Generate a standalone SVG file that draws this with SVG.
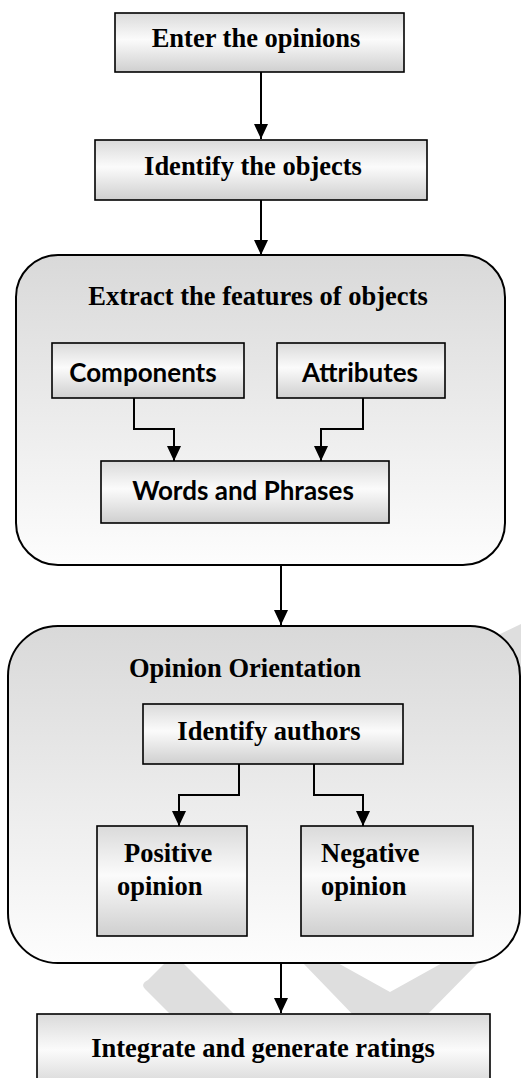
<svg xmlns="http://www.w3.org/2000/svg" width="521" height="1078" viewBox="0 0 521 1078">
<defs>
<linearGradient id="gBox" x1="0" y1="0" x2="0" y2="1">
<stop offset="0" stop-color="#dadada"/>
<stop offset="0.45" stop-color="#fbfbfb"/>
<stop offset="1" stop-color="#cfcfcf"/>
</linearGradient>
<linearGradient id="gBig" x1="0" y1="0" x2="0" y2="1">
<stop offset="0" stop-color="#d9d9d9"/>
<stop offset="1" stop-color="#fdfdfd"/>
</linearGradient>
<marker id="ah" markerUnits="userSpaceOnUse" markerWidth="16" markerHeight="14" refX="15" refY="7" orient="auto">
<path d="M0,0 L15,7 L0,14 Z" fill="#000"/>
</marker>
</defs>
<style>
.box{fill:url(#gBox);stroke:#000;stroke-width:1.6}
.big{fill:url(#gBig);stroke:#000;stroke-width:2}
.serif{font-family:"Liberation Serif","Times New Roman",serif;font-weight:bold;font-size:26.5px;fill:#000}
.sans{font-family:Lato,"Liberation Sans",sans-serif;font-weight:bold;font-size:26px;fill:#000}
.mid{text-anchor:middle}
.conn{fill:none;stroke:#000;stroke-width:2;marker-end:url(#ah)}
.wm{fill:#dedede}
</style>
<rect width="521" height="1078" fill="#fff"/>
<g id="watermark">
<path class="wm" d="M148,980 L169,959 Q174,954 179,959 L242,1022 L178,1022 L145,989 Q140,984 148,980 Z"/>
<polygon class="wm" points="302,962 336,962 390,992 444,962 479,962 422,1020 358,1020"/>
<polygon class="wm" points="496,636 521,624 521,720 496,720"/>
</g>
<g id="n-enter">
<rect class="box" x="115" y="13" width="289" height="59"/>
<text class="serif mid" x="256" y="47">Enter the opinions</text>
</g>
<g id="n-identify-objects">
<rect class="box" x="95" y="140" width="332" height="60"/>
<text class="serif mid" x="253" y="175">Identify the objects</text>
</g>
<g id="n-extract">
<rect class="big" x="16" y="255" width="489" height="310" rx="42" ry="42"/>
<text class="serif mid" x="258" y="305">Extract the features of objects</text>
</g>
<g id="n-components">
<rect class="box" x="52" y="343" width="192" height="55"/>
<text class="sans mid" x="143" y="382">Components</text>
</g>
<g id="n-attributes">
<rect class="box" x="277" y="343" width="168" height="55"/>
<text class="sans mid" x="360" y="382">Attributes</text>
</g>
<g id="n-words">
<rect class="box" x="101" y="461" width="288" height="62"/>
<text class="sans mid" x="243" y="500">Words and Phrases</text>
</g>
<g id="n-orientation">
<rect class="big" x="8" y="626" width="512" height="337" rx="50" ry="50"/>
<text class="serif" x="129" y="677">Opinion Orientation</text>
</g>
<g id="n-authors">
<rect class="box" x="143" y="704" width="260" height="60"/>
<text class="serif mid" x="269" y="740">Identify authors</text>
</g>
<g id="n-positive">
<rect class="box" x="97" y="826" width="150" height="110"/>
<text class="serif" x="124" y="862">Positive</text>
<text class="serif" x="117" y="895">opinion</text>
</g>
<g id="n-negative">
<rect class="box" x="301" y="826" width="172" height="110"/>
<text class="serif" x="321" y="862">Negative</text>
<text class="serif" x="321" y="895">opinion</text>
</g>
<g id="n-integrate">
<rect class="box" x="37" y="1014" width="453" height="80"/>
<text class="serif mid" x="263" y="1057">Integrate and generate ratings</text>
</g>
<g id="connectors">
<path class="conn" d="M261,72 L261,139"/>
<path class="conn" d="M261,200 L261,255"/>
<path class="conn" d="M134,398 L134,429 L174,429 L174,461"/>
<path class="conn" d="M363,398 L363,429 L321,429 L321,461"/>
<path class="conn" d="M281,565 L281,625"/>
<path class="conn" d="M239,764 L239,795 L179,795 L179,826"/>
<path class="conn" d="M314,764 L314,795 L363,795 L363,826"/>
<path class="conn" d="M281,963 L281,1013"/>
</g>
</svg>
